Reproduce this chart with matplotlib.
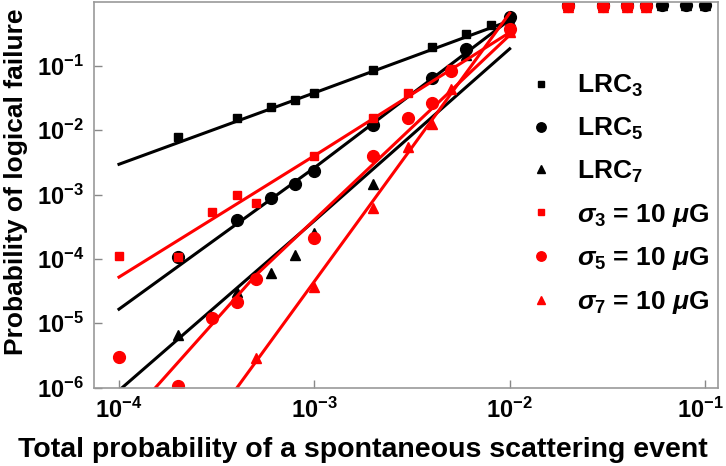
import numpy as np
import matplotlib as mpl
import matplotlib.pyplot as plt
from matplotlib.ticker import NullLocator
from matplotlib.transforms import ScaledTranslation

# global plot style
mpl.rcParams['font.family'] = ['Liberation Sans', 'DejaVu Sans']
mpl.rcParams['font.weight'] = 'bold'
mpl.rcParams['axes.labelweight'] = 'bold'
mpl.rcParams['mathtext.fontset'] = 'custom'
mpl.rcParams['mathtext.rm'] = 'Liberation Sans:bold'
mpl.rcParams['mathtext.it'] = 'Liberation Sans:italic:bold'
mpl.rcParams['mathtext.bf'] = 'Liberation Sans:bold'

# data
x_lrc3 = [2e-4, 4e-4, 6e-4, 8e-4, 1e-3, 2e-3, 4e-3, 6e-3, 8e-3, 1e-2,
          2e-2, 3e-2, 4e-2, 5e-2, 6e-2, 8e-2, 1e-1]
y_lrc3 = [7.9e-3, 1.56e-2, 2.31e-2, 2.97e-2, 3.8e-2, 8.7e-2, 0.197, 0.31, 0.43, 0.55,
          0.88, 0.88, 0.88, 0.88, 0.88, 0.88, 0.88]

x_lrc5 = [2e-4, 4e-4, 6e-4, 8e-4, 1e-3, 2e-3, 4e-3, 6e-3, 1e-2,
          2e-2, 3e-2, 4e-2, 5e-2, 6e-2, 8e-2, 1e-1]
y_lrc5 = [1.05e-4, 3.95e-4, 8.7e-4, 1.48e-3, 2.28e-3, 1.22e-2, 6.5e-2, 0.18, 0.57,
          0.88, 0.88, 0.88, 0.88, 0.88, 0.88, 0.88]

x_lrc7 = [2e-4, 4e-4, 6e-4, 8e-4, 1e-3, 2e-3, 6e-3, 1e-2,
          2e-2, 3e-2, 4e-2, 5e-2, 6e-2, 8e-2, 1e-1]
y_lrc7 = [6.5e-6, 3.1e-5, 6.0e-5, 1.13e-4, 2.5e-4, 1.48e-3, 0.15, 0.5,
          0.88, 0.88, 0.88, 0.88, 0.88, 0.88, 0.88]

x_sig3 = [1e-4, 2e-4, 3e-4, 4e-4, 5e-4, 1e-3, 2e-3, 3e-3, 5e-3, 1e-2,
          2e-2, 3e-2, 4e-2, 5e-2]
y_sig3 = [1.09e-4, 1.07e-4, 5.3e-4, 1.0e-3, 7.5e-4, 3.9e-3, 1.56e-2, 3.8e-2, 8.9e-2, 0.33,
          0.85, 0.85, 0.85, 0.85]

x_sig5 = [1e-4, 2e-4, 3e-4, 4e-4, 5e-4, 1e-3, 2e-3, 3e-3, 4e-3, 5e-3, 1e-2,
          2e-2, 3e-2, 4e-2, 5e-2]
y_sig5 = [3.0e-6, 1.05e-6, 1.2e-5, 2.1e-5, 4.8e-5, 2.08e-4, 4.0e-3, 1.56e-2, 2.67e-2, 8.4e-2, 0.37,
          0.85, 0.85, 0.85, 0.85]

x_sig7 = [5e-4, 1e-3, 2e-3, 3e-3, 4e-3, 5e-3, 1e-2,
          2e-2, 3e-2, 4e-2, 5e-2]
y_sig7 = [2.9e-6, 3.6e-5, 6.1e-4, 5.4e-3, 1.26e-2, 4.4e-2, 0.33,
          0.82, 0.82, 0.82, 0.82]

# fitted curves (read at a few abscissae)
fit_x = [1e-4, 1e-3, 1e-2]
fit_lrc3 = [2.95e-3, 3.8e-2, 0.5]
fit_lrc5 = [1.65e-5, 2.6e-3, 0.52]
fit_lrc7 = [9e-7, 3.9e-4, 0.184]
fit_sig3 = [5.2e-5, 4.0e-3, 0.33]
fit_sig5_x = [1e-4, 5e-4, 3e-3, 1e-2]
fit_sig5 = [2.3e-7, 5.5e-5, 9.5e-3, 0.3]
fit_sig7_x = [1e-4, 1e-2]
fit_sig7 = [3e-9, 0.66]

y_ticks = [1e-6, 1e-5, 1e-4, 1e-3, 1e-2, 1e-1]
x_ticks = [1e-4, 1e-3, 1e-2, 1e-1]

labels = ['LRC$_3$', 'LRC$_5$', 'LRC$_7$',
          r'$\sigma_3$ = 10 $\mu$G', r'$\sigma_5$ = 10 $\mu$G', r'$\sigma_7$ = 10 $\mu$G']

# plot
fig = plt.figure(figsize=(7.26, 4.66), dpi=100)
ax = fig.add_axes([94 / 726, 78.5 / 466, 624 / 726, 386 / 466])
ax.set_xscale('log')
ax.set_yscale('log')

lw = 2.2
ax.plot(fit_x, fit_lrc3, color='black', lw=lw)
ax.plot(fit_x, fit_lrc5, color='black', lw=lw)
ax.plot(fit_x, fit_lrc7, color='black', lw=lw)

h = []
h += ax.plot(x_lrc3, y_lrc3, 's', color='black', ms=6, label=labels[0])
h += ax.plot(x_lrc5, y_lrc5, 'o', color='black', ms=8.5, label=labels[1])
h += ax.plot(x_lrc7, y_lrc7, '^', color='black', ms=7.5, label=labels[2])

ax.plot(fit_x, fit_sig3, color='red', lw=lw)
ax.plot(fit_sig5_x, fit_sig5, color='red', lw=lw)
ax.plot(fit_sig7_x, fit_sig7, color='red', lw=lw)

h += ax.plot(x_sig3, y_sig3, 's', color='red', ms=6, label=labels[3])
h += ax.plot(x_sig5, y_sig5, 'o', color='red', ms=8.5, label=labels[4])
h += ax.plot(x_sig7, y_sig7, '^', color='red', ms=7.5, label=labels[5])

ax.set_xlim(7.45e-5, 0.1165)
ax.set_ylim(1e-6, 1)
ax.set_xticks(x_ticks)
ax.set_yticks(y_ticks)
ax.xaxis.set_minor_locator(NullLocator())
ax.yaxis.set_minor_locator(NullLocator())
ax.tick_params(which='major', direction='in', length=6, width=1, color='#888888',
               labelsize=17, pad=7)
for sp in ax.spines.values():
    sp.set_color('#999999')
    sp.set_linewidth(1.2)

# keep the last x tick label inside the canvas
last = ax.xaxis.get_major_ticks()[-1].label1
last.set_transform(last.get_transform() + ScaledTranslation(-3 / 72, 0, fig.dpi_scale_trans))

ax.set_xlabel('Total probability of a spontaneous scattering event', fontsize=20.5)
ax.set_ylabel('Probability of logical failure', fontsize=19)
ax.xaxis.set_label_coords(0.431, -0.128)
ax.yaxis.set_label_coords(-0.106, 0.532)

leg = ax.legend(handles=h, loc='upper left', bbox_to_anchor=(0.696, 0.815), frameon=False,
                fontsize=19, handlelength=1.0, handletextpad=0.85, labelspacing=0.633,
                markerscale=0.8, borderaxespad=0, borderpad=0)

fig.savefig('out.png', dpi=100)
